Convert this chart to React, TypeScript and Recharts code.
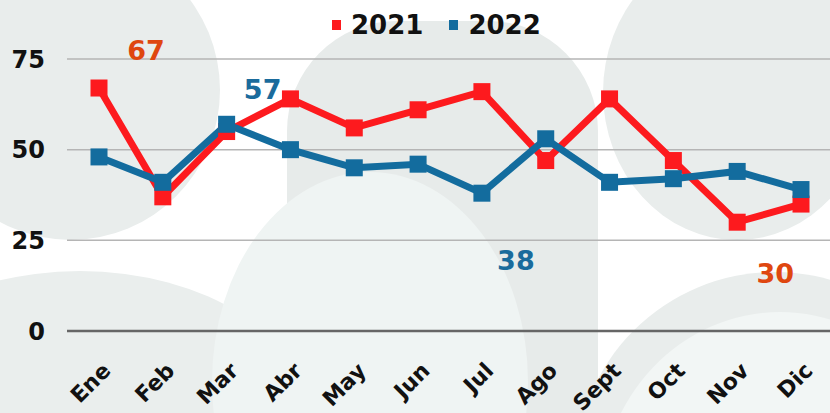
import { LineChart, Line, XAxis, YAxis, CartesianGrid, ReferenceLine, LabelList } from 'recharts';

const months = ['Ene', 'Feb', 'Mar', 'Abr', 'May', 'Jun', 'Jul', 'Ago', 'Sept', 'Oct', 'Nov', 'Dic'];
const values2021 = [67, 37, 55, 64, 56, 61, 66, 47, 64, 47, 30, 35];
const values2022 = [48, 41, 57, 50, 45, 46, 38, 53, 41, 42, 44, 39];
const yTicks = [0, 25, 50, 75];

const data = months.map((m, i) => ({ month: m, y2021: values2021[i], y2022: values2022[i] }));

const FONT = '"DejaVu Sans", sans-serif';

// label offsets (from the point) for the max / min callouts
const series = [
  { key: 'y2021', name: '2021', color: '#fd1a1e', labelColor: '#df4710', values: values2021, maxOff: [47, -38], minOff: [38, 51] },
  { key: 'y2022', name: '2022', color: '#136c9e', labelColor: '#1a6b9c', values: values2022, maxOff: [36, -35], minOff: [34, 67] },
];

// decorative background blobs
const blobs = [
  { left: -78, top: -60, w: 298, h: 300, r: '50%', c: '#e9edec' },
  { left: -150, top: 271, w: 460, h: 300, r: '50%', c: '#eaeeed' },
  { left: 287, top: 21, w: 311, h: 470, r: '110px', c: '#e7ebea' },
  { left: 212, top: 172, w: 316, h: 420, r: '50%', c: '#eff4f3' },
  { left: 603, top: -55, w: 268, h: 295, r: '50%', c: '#e9edec' },
  { left: 575, top: 272, w: 400, h: 400, r: '50%', c: '#e9edec' },
  { left: 600, top: 312, w: 360, h: 380, r: '50%', c: '#f2f6f5' },
];

function SquareDot(props: any) {
  const { cx, cy, fill } = props;
  if (cx == null || cy == null) return null;
  return <rect x={cx - 8.5} y={cy - 8.5} width={17} height={17} fill={fill} />;
}

function MonthTick(props: any) {
  const { x, y, payload } = props;
  return (
    <g transform={`translate(${x + 13},${y + 41})`}>
      <text x={0} y={0} textAnchor="end" transform="rotate(-45)" fontFamily={FONT} fontWeight="bold" fontSize={22} fill="#111">
        {payload.value}
      </text>
    </g>
  );
}

function makeCallout(s: (typeof series)[number]) {
  const maxIdx = s.values.indexOf(Math.max(...s.values));
  const minIdx = s.values.indexOf(Math.min(...s.values));
  return (props: any) => {
    const { x, y, index, value } = props;
    let off: number[] | null = null;
    if (index === maxIdx) off = s.maxOff;
    if (index === minIdx) off = s.minOff;
    if (!off) return null;
    return (
      <text x={x + off[0]} y={y + off[1]} dy="0.36em" textAnchor="middle" fontFamily={FONT} fontWeight="bold" fontSize={27} fill={s.labelColor}>
        {value}
      </text>
    );
  };
}

export default function App() {
  return (
    <div style={{ position: 'absolute', left: 0, top: 0, width: 830, height: 413, overflow: 'hidden', background: '#fff' }}>
      {blobs.map((b, i) => (
        <div key={i} style={{ position: 'absolute', left: b.left, top: b.top, width: b.w, height: b.h, borderRadius: b.r, background: b.c }} />
      ))}
      <div style={{ position: 'absolute', left: 0, top: 0 }}>
        <LineChart width={833} height={413} data={data} margin={{ top: 59, right: 0, bottom: 0, left: 0 }}>
          <CartesianGrid vertical={false} stroke="#b5b5b5" strokeWidth={1.5} />
          <XAxis
            dataKey="month"
            axisLine={false}
            tickLine={false}
            tickSize={0}
            tickMargin={0}
            height={82}
            interval={0}
            padding={{ left: 32, right: 32 }}
            tick={<MonthTick />}
          />
          <YAxis
            domain={[0, 75]}
            ticks={yTicks}
            width={67}
            axisLine={false}
            tickLine={false}
            tickSize={0}
            tickMargin={22}
            tick={{ fontFamily: FONT, fontWeight: 'bold', fontSize: 24, fill: '#111' }}
          />
          <ReferenceLine y={0} stroke="#666" strokeWidth={2.5} />
          {series.map((s) => (
            <Line
              key={s.key}
              type="linear"
              dataKey={s.key}
              name={s.name}
              stroke={s.color}
              strokeWidth={7}
              dot={<SquareDot fill={s.color} />}
              activeDot={false}
              isAnimationActive={false}
            >
              <LabelList dataKey={s.key} content={makeCallout(s)} />
            </Line>
          ))}
        </LineChart>
      </div>
      <div style={{ position: 'absolute', left: 332, top: 10, display: 'flex', alignItems: 'center', fontFamily: FONT, fontWeight: 'bold', fontSize: 26, color: '#111' }}>
        {series.map((s, i) => (
          <div key={s.key} style={{ display: 'flex', alignItems: 'center', marginRight: i === 0 ? 26 : 0 }}>
            <span style={{ width: 9, height: 10, background: s.color, marginRight: 10, display: 'inline-block' }} />
            <span>{s.name}</span>
          </div>
        ))}
      </div>
    </div>
  );
}
